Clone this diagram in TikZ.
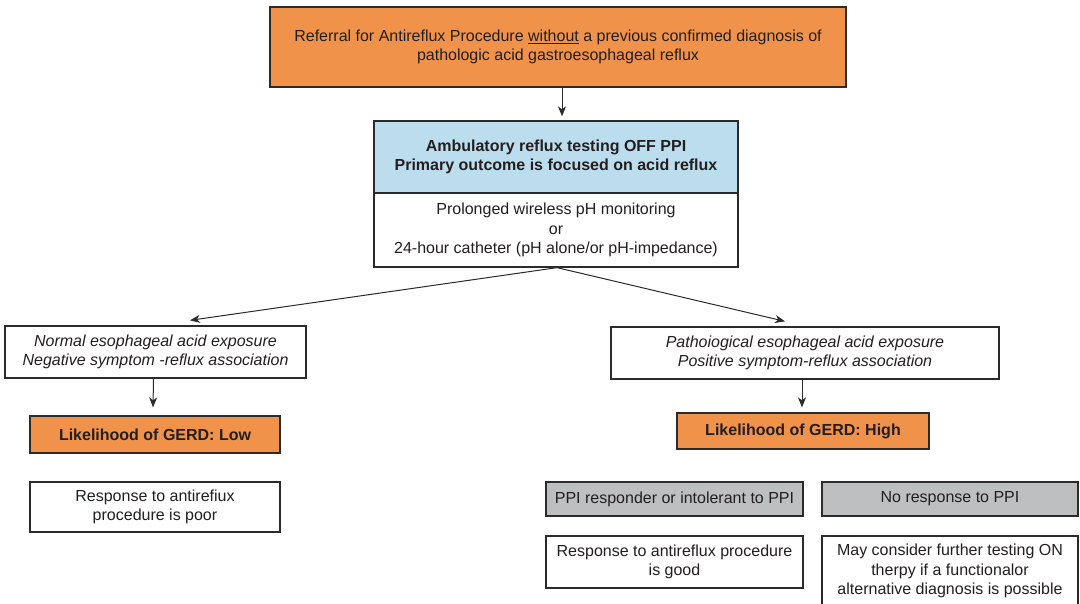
\documentclass[tikz,border=0pt]{standalone}
\usepackage{fontspec}
\setmainfont{Liberation Sans}
\usetikzlibrary{arrows.meta}
\definecolor{inkc}{HTML}{231F20}
\definecolor{linec}{HTML}{2B2B2B}
\definecolor{orangec}{HTML}{F0924A}
\definecolor{bluec}{HTML}{BCDDEE}
\definecolor{grayc}{HTML}{BEBFC1}
\newcommand{\boxfont}{\fontsize{16}{19.5}\selectfont}
\tikzset{
  box/.style={draw=linec, line width=1.3pt, rectangle, inner sep=0pt, align=center,
    text=inkc, font=\boxfont},
  orangebox/.style={box, fill=orangec},
  bluebox/.style={box, fill=bluec, font=\boxfont\bfseries},
  graybox/.style={box, fill=grayc},
  whitebox/.style={box, fill=white},
  arr/.style={draw=linec, line width=1pt, -{Stealth[length=10pt,width=8pt,inset=3pt]}}
}
\begin{document}
\begin{tikzpicture}[x=1pt,y=1pt]
\useasboundingbox (0,0) rectangle (1080,-604);
\fill[white] (0,0) rectangle (1080,-604);

% referral
\node[orangebox, minimum width=576pt, minimum height=80pt] (ref) at (558,-47)
  {Referral for Antireflux Procedure \underline{without} a previous confirmed diagnosis of\\pathologic acid gastroesophageal reflux};

% ambulatory testing
\node[bluebox, minimum width=364pt, minimum height=72pt] (amb) at (556,-157)
  {Ambulatory reflux testing OFF PPI\\Primary outcome is focused on acid reflux};
\node[whitebox, minimum width=364pt, minimum height=74pt] (test) at (556,-230)
  {Prolonged wireless pH monitoring\\or\\24-hour catheter (pH alone/or pH-impedance)};

% left branch
\node[whitebox, minimum width=301pt, minimum height=52pt, font=\boxfont\itshape] (normal) at (155.5,-352)
  {Normal esophageal acid exposure\\Negative symptom -reflux association};
\node[orangebox, minimum width=250pt, minimum height=37pt, font=\boxfont\bfseries] (low) at (155,-434.5)
  {Likelihood of GERD: Low};
\node[whitebox, minimum width=250pt, minimum height=50pt] (poor) at (155,-507)
  {Response to antirefiux\\procedure is poor};

% right branch
\node[whitebox, minimum width=388pt, minimum height=52pt, font=\boxfont\itshape] (patho) at (805,-353)
  {Pathoiogical esophageal acid exposure\\Positive symptom-reflux association};
\node[orangebox, minimum width=252pt, minimum height=36pt, font=\boxfont\bfseries] (high) at (803,-431)
  {Likelihood of GERD: High};
\node[graybox, minimum width=257pt, minimum height=34pt] (resp) at (674.5,-499)
  {PPI responder or intolerant to PPI};
\node[graybox, minimum width=256pt, minimum height=34pt] (nores) at (950,-499)
  {No response to PPI};
\node[whitebox, minimum width=257pt, minimum height=52pt] (good) at (674.5,-562)
  {Response to antireflux procedure\\is good};
\node[whitebox, minimum width=256pt, minimum height=70pt] (further) at (950,-571)
  {May consider further testing ON\\therpy if a functionalor\\alternative diagnosis is possible};

% connectors
\draw[arr] ([xshift=4pt]ref.south) -- ([xshift=6pt,yshift=4pt]amb.north);
\draw[arr] ([xshift=1pt]test.south) -- ([xshift=34.5pt,yshift=5pt]normal.north);
\draw[arr] ([xshift=1pt]test.south) -- ([xshift=-20pt,yshift=5pt]patho.north);
\draw[arr] ([xshift=-2pt]normal.south) -- ([xshift=-2pt,yshift=8pt]low.north);
\draw[arr] ([xshift=-3pt]patho.south) -- ([xshift=-1pt,yshift=5pt]high.north);
\end{tikzpicture}
\end{document}
